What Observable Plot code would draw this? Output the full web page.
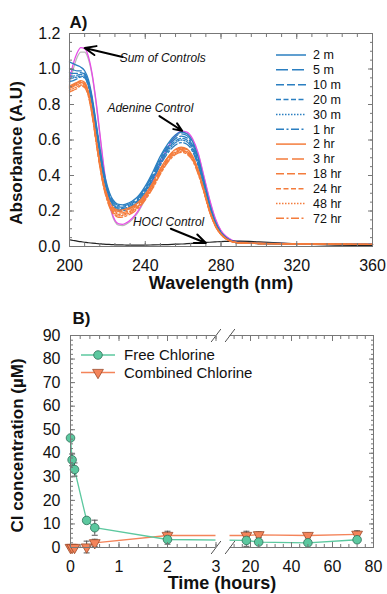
<!DOCTYPE html>
<html><head><meta charset="utf-8">
<script src="https://cdn.jsdelivr.net/npm/d3@7"></script>
<script src="https://cdn.jsdelivr.net/npm/@observablehq/plot@0.6"></script>
<style>
body{margin:0;background:#fff;}
#wrap{position:relative;width:387px;height:594px;font-family:"Liberation Sans",Arial,sans-serif;}
#wrap svg{display:block;}
.ov{position:absolute;left:0;top:0;pointer-events:none;}
</style></head><body><div id="wrap"></div>
<script>
// ---------- Panel A data ----------
const wavelengths = [200,202,204,206,208,210,212,214,216,218,220,222,224,226,228,230,233,236,240,244,248,252,256,259,262,265,268,271,274,277,280,283,286,290,300,320,340,360];
const timeLabels = ["2 m","5 m","10 m","20 m","30 m","1 hr","2 hr","3 hr","18 hr","24 hr","48 hr","72 hr"];
const abs_2m  = [1.04,1.03,1.02,1.01,0.99,0.94,0.84,0.70,0.56,0.43,0.34,0.28,0.25,0.237,0.235,0.24,0.255,0.28,0.34,0.42,0.51,0.58,0.63,0.645,0.635,0.59,0.50,0.37,0.24,0.14,0.08,0.048,0.03,0.021,0.018,0.015,0.013,0.012];
const abs_5m  = [1.00,0.995,0.99,0.99,0.975,0.925,0.83,0.69,0.55,0.42,0.33,0.272,0.243,0.23,0.228,0.233,0.248,0.273,0.33,0.41,0.50,0.57,0.62,0.635,0.625,0.58,0.49,0.365,0.235,0.137,0.078,0.047,0.03,0.021,0.018,0.015,0.013,0.012];
const abs_10m = [0.98,0.975,0.975,0.98,0.97,0.92,0.82,0.68,0.54,0.41,0.322,0.265,0.236,0.223,0.221,0.226,0.241,0.266,0.322,0.40,0.49,0.56,0.607,0.622,0.612,0.568,0.48,0.357,0.23,0.134,0.077,0.046,0.029,0.02,0.017,0.015,0.013,0.012];
const abs_20m = [0.96,0.96,0.965,0.97,0.96,0.91,0.81,0.67,0.53,0.40,0.315,0.258,0.229,0.216,0.214,0.219,0.234,0.259,0.314,0.39,0.48,0.55,0.595,0.61,0.60,0.557,0.47,0.35,0.226,0.132,0.076,0.045,0.029,0.02,0.017,0.015,0.013,0.012];
const abs_30m = [0.945,0.95,0.955,0.96,0.955,0.905,0.80,0.66,0.52,0.395,0.31,0.253,0.224,0.21,0.208,0.213,0.228,0.253,0.307,0.382,0.47,0.54,0.585,0.60,0.59,0.548,0.462,0.344,0.222,0.13,0.075,0.045,0.028,0.02,0.017,0.015,0.013,0.012];
const abs_1h  = [0.93,0.935,0.945,0.955,0.95,0.90,0.795,0.65,0.51,0.388,0.303,0.246,0.217,0.203,0.201,0.206,0.221,0.246,0.30,0.374,0.46,0.528,0.572,0.585,0.576,0.535,0.452,0.337,0.218,0.128,0.074,0.044,0.028,0.02,0.017,0.015,0.013,0.012];
const abs_2h  = [0.905,0.915,0.925,0.935,0.925,0.87,0.76,0.615,0.475,0.36,0.285,0.235,0.213,0.205,0.206,0.212,0.225,0.247,0.295,0.36,0.44,0.505,0.548,0.56,0.55,0.51,0.43,0.32,0.205,0.12,0.07,0.042,0.027,0.02,0.017,0.015,0.013,0.012];
const abs_3h  = [0.90,0.91,0.92,0.93,0.92,0.865,0.755,0.61,0.47,0.355,0.279,0.229,0.206,0.197,0.198,0.204,0.218,0.24,0.288,0.354,0.434,0.50,0.543,0.555,0.545,0.506,0.426,0.317,0.203,0.119,0.07,0.042,0.027,0.02,0.017,0.015,0.013,0.012];
const abs_18h = [0.895,0.905,0.915,0.925,0.915,0.86,0.75,0.605,0.465,0.35,0.273,0.222,0.199,0.189,0.19,0.196,0.21,0.233,0.281,0.347,0.427,0.493,0.535,0.547,0.537,0.499,0.42,0.313,0.20,0.118,0.069,0.041,0.027,0.02,0.017,0.015,0.013,0.012];
const abs_24h = [0.89,0.90,0.91,0.92,0.91,0.855,0.745,0.60,0.46,0.345,0.267,0.215,0.191,0.181,0.182,0.188,0.203,0.226,0.275,0.341,0.42,0.487,0.53,0.542,0.532,0.494,0.416,0.31,0.198,0.117,0.068,0.041,0.027,0.02,0.017,0.015,0.013,0.012];
const abs_48h = [0.88,0.89,0.90,0.91,0.90,0.85,0.74,0.595,0.455,0.34,0.261,0.208,0.183,0.173,0.174,0.181,0.196,0.22,0.268,0.334,0.414,0.481,0.524,0.537,0.527,0.49,0.412,0.307,0.196,0.116,0.068,0.041,0.026,0.02,0.017,0.015,0.013,0.012];
const abs_72h = [0.87,0.88,0.89,0.905,0.895,0.845,0.735,0.59,0.45,0.335,0.255,0.201,0.175,0.164,0.165,0.172,0.188,0.213,0.262,0.328,0.408,0.475,0.518,0.53,0.52,0.483,0.406,0.303,0.194,0.115,0.067,0.04,0.026,0.02,0.017,0.015,0.013,0.012];
const abs_sum     = [0.94,1.03,1.09,1.12,1.115,1.07,0.97,0.82,0.64,0.46,0.31,0.205,0.148,0.127,0.125,0.133,0.158,0.197,0.275,0.37,0.47,0.56,0.625,0.65,0.645,0.607,0.525,0.395,0.265,0.158,0.09,0.055,0.035,0.025,0.02,0.016,0.014,0.013];
const abs_adenine = [0.91,1.0,1.065,1.095,1.095,1.055,0.96,0.81,0.63,0.45,0.30,0.197,0.14,0.12,0.118,0.126,0.15,0.19,0.268,0.362,0.462,0.552,0.618,0.643,0.638,0.60,0.518,0.39,0.26,0.154,0.087,0.052,0.032,0.022,0.017,0.014,0.012,0.011];
const abs_hocl    = [0.038,0.034,0.03,0.027,0.024,0.021,0.019,0.017,0.015,0.013,0.012,0.011,0.010,0.009,0.009,0.008,0.008,0.008,0.008,0.009,0.010,0.011,0.013,0.014,0.016,0.018,0.02,0.022,0.024,0.026,0.028,0.029,0.03,0.03,0.026,0.015,0.008,0.005];
const xTicksA = [200,240,280,320,360];
const yTicksA = [0,0.2,0.4,0.6,0.8,1.0,1.2];
const annotLabels = ["Sum of Controls","Adenine Control","HOCl Control"];
const annotTextX = [226.5,220,233.5];
const annotTextY = [1.062,0.78,0.135];
const annotArrowX1 = [228,247.5,253.5];
const annotArrowY1 = [1.068,0.735,0.10];
const annotArrowX2 = [208,259.5,272];
const annotArrowY2 = [1.118,0.652,0.02];

// ---------- Panel B data ----------
const timeHours = [0,0.033,0.083,0.333,0.5,2,18,24,48,72];
const freeCl     = [46.5,37.2,33.1,11.5,8.4,3.4,3.0,2.3,2.0,3.3];
const freeClErr  = [0,2.5,2.8,1.0,3.2,2.0,2.5,1.0,0.8,1.2];
const combCl     = [0,0,0,0.2,2.0,5.1,5.1,5.4,5.1,5.6];
const combClErr  = [0.3,0.3,0.3,2.5,1.5,1.8,1.8,1.2,1.0,1.5];
const seriesB = ["Free Chlorine","Combined Chlorine"];
const xTicksB = [0,1,2,3,20,40,60,80];
const yTicksB = [0,10,20,30,40,50,60,70,80,90];

// ---------- styles ----------
const blue = "#2b7fc1", orange = "#f47c3c";
const dashes = [null,"12,4","8,3","5,2.5","1.5,1.5","8,2.5,2,2.5"];
const curves = [abs_2m,abs_5m,abs_10m,abs_20m,abs_30m,abs_1h,abs_2h,abs_3h,abs_18h,abs_24h,abs_48h,abs_72h];
const FONT = "Liberation Sans, Arial, sans-serif";
const TICKFS = 16;

const toRows = arr => arr.map((v,j)=>({wl: wavelengths[j], a: v}));
const seriesColor = i => i < 6 ? blue : orange;
const seriesDash = i => dashes[i % 6];

const wrap = document.getElementById("wrap");

// ----- Panel A -----
const xMinorA = d3.range(200, 361, 8);
const yMinorA = d3.range(0, 1.2001, 0.05);
const marksA = [
  Plot.line(toRows(abs_adenine), {x:"wl", y:"a", stroke:"#b9b9b9", strokeWidth:1.3, curve:"monotone-x"}),
  Plot.line(toRows(abs_sum), {x:"wl", y:"a", stroke:"#e64ce6", strokeWidth:1.3, curve:"monotone-x"}),
  Plot.line(toRows(abs_hocl), {x:"wl", y:"a", stroke:"#222", strokeWidth:1.2, curve:"monotone-x"}),
  ...curves.map((c,i)=>Plot.line(toRows(c), {x:"wl", y:"a", stroke: seriesColor(i), strokeWidth:1.3, strokeDasharray: seriesDash(i), curve:"monotone-x"})),
  Plot.frame({stroke:"#777"}),
  Plot.axisX({ticks:xTicksA, tickSize:0, tickPadding:13, fontSize:TICKFS, label:null, tickFormat:d=>String(d)}),
  Plot.axisY({ticks:yTicksA, tickSize:0, tickPadding:9, fontSize:TICKFS, label:null, tickFormat:d=>d.toFixed(1)}),
  Plot.axisX({anchor:"bottom", ticks:xTicksA, tickSize:-5, label:null, tickFormat:()=>"", stroke:"#777"}),
  Plot.axisX({anchor:"bottom", ticks:xMinorA, tickSize:-3, label:null, tickFormat:()=>"", stroke:"#777"}),
  Plot.axisX({anchor:"top", ticks:xTicksA, tickSize:-5, label:null, tickFormat:()=>"", stroke:"#777"}),
  Plot.axisX({anchor:"top", ticks:xMinorA, tickSize:-3, label:null, tickFormat:()=>"", stroke:"#777"}),
  Plot.axisY({anchor:"left", ticks:yTicksA, tickSize:-5, label:null, tickFormat:()=>"", stroke:"#777"}),
  Plot.axisY({anchor:"left", ticks:yMinorA, tickSize:-3, label:null, tickFormat:()=>"", stroke:"#777"}),
  Plot.axisY({anchor:"right", ticks:yTicksA, tickSize:-5, label:null, tickFormat:()=>"", stroke:"#777"}),
  Plot.axisY({anchor:"right", ticks:yMinorA, tickSize:-3, label:null, tickFormat:()=>"", stroke:"#777"}),
  Plot.arrow(annotLabels, {x1:(d,i)=>annotArrowX1[i], y1:(d,i)=>annotArrowY1[i], x2:(d,i)=>annotArrowX2[i], y2:(d,i)=>annotArrowY2[i], stroke:"#000", strokeWidth:2, headLength:9, headAngle:45}),
  Plot.text(annotLabels, {x:(d,i)=>annotTextX[i], y:(d,i)=>annotTextY[i], text:d=>d, textAnchor:"start", fontStyle:"italic", fontSize:12, fill:"#111"}),
  Plot.text(["A)"], {frameAnchor:"top-left", dy:-6, dx:0, textAnchor:"start", fontWeight:"bold", fontSize:17, lineAnchor:"bottom"}),
  Plot.text(["Absorbance (A.U)"], {frameAnchor:"left", dx:-53, dy:13, rotate:-90, textAnchor:"middle", lineAnchor:"middle", fontWeight:"bold", fontSize:17}),
  Plot.text(["Wavelength (nm)"], {frameAnchor:"bottom", dy:37, textAnchor:"middle", lineAnchor:"middle", fontWeight:"bold", fontSize:18})
];
const plotA = Plot.plot({
  width:387, height:297, marginLeft:69, marginRight:15, marginTop:33, marginBottom:51,
  style:{fontFamily:FONT, fontSize:"14px", color:"#111", background:"transparent", overflow:"visible"},
  x:{domain:[200,360]}, y:{domain:[0,1.2]},
  marks: marksA
});
wrap.appendChild(plotA);

// ----- Panel B -----
const rowsB = timeHours.map((t,i)=>({t, free: freeCl[i], fe: freeClErr[i], comb: combCl[i], ce: combClErr[i]}));
const capSym = {draw(ctx, size){ const r = Math.sqrt(size/Math.PI); ctx.moveTo(-r,0); ctx.lineTo(r,0); }};
const slashSym = {draw(ctx, size){ const r = Math.sqrt(size/Math.PI); ctx.moveTo(-r*0.75, r); ctx.lineTo(r*0.75, -r); }};
const xMinorB = [...d3.range(0, 3.0001, 0.2), ...d3.range(12, 80.001, 4)];
const yMinorB = d3.range(0, 90.001, 2);
const green = "#5cc89f", greenDark = "#2e6e58", orangeB = "#f4845a", orangeDark = "#9a4a2a", errC = "#555";
const marksB = [
  Plot.line(rowsB, {x:"t", y:"comb", stroke:orangeB, strokeWidth:1.3}),
  Plot.line(rowsB, {x:"t", y:"free", stroke:green, strokeWidth:1.3}),
  Plot.rect([0], {x1:3, x2:10, y1:-2, y2:90, fill:"white"}),
  Plot.ruleX(rowsB.filter(d=>d.fe>0), {x:"t", y1:d=>d.free-d.fe, y2:d=>d.free+d.fe, stroke:errC, strokeWidth:1}),
  Plot.dot(rowsB.filter(d=>d.fe>0), {x:"t", y:d=>d.free-d.fe, symbol:capSym, r:3, stroke:errC, strokeWidth:1}),
  Plot.dot(rowsB.filter(d=>d.fe>0), {x:"t", y:d=>d.free+d.fe, symbol:capSym, r:3, stroke:errC, strokeWidth:1}),
  Plot.ruleX(rowsB, {x:"t", y1:d=>d.comb-d.ce, y2:d=>d.comb+d.ce, stroke:errC, strokeWidth:1}),
  Plot.dot(rowsB, {x:"t", y:d=>d.comb-d.ce, symbol:capSym, r:3, stroke:errC, strokeWidth:1}),
  Plot.dot(rowsB, {x:"t", y:d=>d.comb+d.ce, symbol:capSym, r:3, stroke:errC, strokeWidth:1}),
  Plot.dot(rowsB, {x:"t", y:"comb", symbol:"triangle", rotate:180, r:4, fill:orangeB, stroke:orangeDark, strokeWidth:0.8}),
  Plot.dot(rowsB, {x:"t", y:"free", symbol:"circle", r:4.3, fill:green, stroke:greenDark, strokeWidth:0.8}),
  // frame with break
  Plot.ruleX([0, 80], {y1:0, y2:90, stroke:"#777"}),
  Plot.ruleY([0, 90], {x1:0, x2:3, stroke:"#777"}),
  Plot.ruleY([0, 90], {x1:10, x2:80, stroke:"#777"}),
  Plot.dot([3, 10], {x:d=>d, y:0, symbol:slashSym, r:6.5, stroke:"#555", strokeWidth:1}),
  Plot.dot([3, 10], {x:d=>d, y:90, symbol:slashSym, r:6.5, stroke:"#555", strokeWidth:1}),
  Plot.axisX({ticks:xTicksB, tickSize:0, tickPadding:13, fontSize:TICKFS, label:null, tickFormat:d=>String(d)}),
  Plot.axisY({ticks:yTicksB, tickSize:0, tickPadding:10, fontSize:TICKFS, label:null, tickFormat:d=>String(d)}),
  Plot.axisX({anchor:"bottom", ticks:xTicksB, tickSize:-5, label:null, tickFormat:()=>"", stroke:"#777"}),
  Plot.axisX({anchor:"bottom", ticks:xMinorB, tickSize:-3, label:null, tickFormat:()=>"", stroke:"#777"}),
  Plot.axisX({anchor:"top", ticks:xTicksB, tickSize:-5, label:null, tickFormat:()=>"", stroke:"#777"}),
  Plot.axisX({anchor:"top", ticks:xMinorB, tickSize:-3, label:null, tickFormat:()=>"", stroke:"#777"}),
  Plot.axisY({anchor:"left", ticks:yTicksB, tickSize:-5, label:null, tickFormat:()=>"", stroke:"#777"}),
  Plot.axisY({anchor:"left", ticks:yMinorB, tickSize:-3, label:null, tickFormat:()=>"", stroke:"#777"}),
  Plot.axisY({anchor:"right", ticks:yTicksB, tickSize:-5, label:null, tickFormat:()=>"", stroke:"#777"}),
  Plot.axisY({anchor:"right", ticks:yMinorB, tickSize:-3, label:null, tickFormat:()=>"", stroke:"#777"}),
  Plot.text(["B)"], {frameAnchor:"top-left", dy:-12, dx:2, textAnchor:"start", fontWeight:"bold", fontSize:17, lineAnchor:"bottom"}),
  Plot.text(["Cl concentration (µM)"], {frameAnchor:"left", dx:-53, dy:4, rotate:-90, textAnchor:"middle", lineAnchor:"middle", fontWeight:"bold", fontSize:17}),
  Plot.text(["Time (hours)"], {frameAnchor:"bottom", dy:36, textAnchor:"middle", lineAnchor:"middle", fontWeight:"bold", fontSize:18})
];
const plotB = Plot.plot({
  width:387, height:297, marginLeft:70, marginRight:14, marginTop:38, marginBottom:47,
  style:{fontFamily:FONT, fontSize:"14px", color:"#111", background:"transparent", overflow:"visible"},
  x:{type:"linear", domain:[0,3,10,80], range:[70,215.5,229.5,373]},
  y:{domain:[0,90]},
  marks: marksB
});
wrap.appendChild(plotB);

// ----- Legends (overlay) -----
const ov = d3.select(wrap).append("svg").attr("class","ov").attr("width",387).attr("height",594)
  .style("font-family", FONT);
const legA = ov.append("g").style("font-size","12.5px");
timeLabels.forEach((lab,i)=>{
  const y = 55 + i*14.85;
  legA.append("line").attr("x1",276).attr("x2",306).attr("y1",y).attr("y2",y)
    .attr("stroke", seriesColor(i)).attr("stroke-width",1.5).attr("stroke-dasharray", seriesDash(i));
  legA.append("text").attr("x",313).attr("y",y).attr("dy","0.35em").attr("fill","#111").text(lab);
});
const legB = ov.append("g").style("font-size","15px");
seriesB.forEach((lab,i)=>{
  const y = 355 + i*17.5;
  legB.append("line").attr("x1",81).attr("x2",115).attr("y1",y).attr("y2",y)
    .attr("stroke", i===0?green:orangeB).attr("stroke-width",1.3);
  if(i===0) legB.append("circle").attr("cx",98).attr("cy",y).attr("r",4.3).attr("fill",green).attr("stroke",greenDark).attr("stroke-width",0.8);
  else legB.append("path").attr("d", d3.symbol(d3.symbolTriangle, 4*4*Math.PI)()).attr("transform",`translate(98,${y}) rotate(180)`).attr("fill",orangeB).attr("stroke",orangeDark).attr("stroke-width",0.8);
  legB.append("text").attr("x",124).attr("y",y).attr("dy","0.35em").attr("fill","#111").text(lab);
});
</script>
</body></html>
